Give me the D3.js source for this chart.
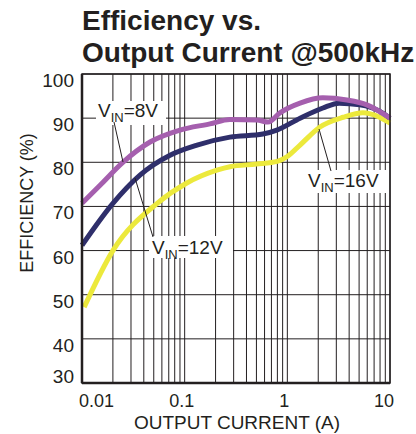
<!DOCTYPE html>
<html>
<head>
<meta charset="utf-8">
<script src="https://cdn.jsdelivr.net/npm/d3@7"></script>
<style>
  body { margin: 0; background: #fff; }
  text { font-family: "Liberation Sans", Arial, sans-serif; fill: #231f20; }
</style>
</head>
<body>
<div class="canva"></div>
<script>
// VIN = 8V
var current8 = [0.01, 0.015, 0.025, 0.046, 0.09, 0.176, 0.276, 0.506, 0.647, 0.847, 1.33, 2.22, 3.8, 5.96, 10];
var eff8     = [70.7, 74.8, 80.0, 84.6, 87.3, 88.7, 89.7, 89.6, 89.1, 91.2, 93.4, 94.6, 94.1, 93.0, 90.0];
// VIN = 12V
var current12 = [0.01, 0.02, 0.0367, 0.072, 0.132, 0.276, 0.578, 0.79, 1.33, 2.22, 3.2, 5.1, 7.9, 10];
var eff12     = [61.2, 70.7, 77.1, 81.6, 83.9, 85.7, 86.4, 87.3, 90.0, 92.3, 93.4, 93.0, 91.6, 90.0];
// VIN = 16V
var current16 = [0.0105, 0.02, 0.054, 0.105, 0.206, 0.276, 0.5, 0.8, 1.0, 1.33, 2.08, 3.5, 5.45, 7.9, 10];
var eff16     = [47.2, 60.0, 70.7, 75.3, 78.2, 79.0, 79.6, 80.2, 81.3, 83.9, 88.0, 90.2, 91.2, 90.2, 88.9];

var xTicks = [0.01, 0.1, 1, 10];
var xTickLabels = ["0.01", "0.1", "1", "10"];
var yTicks = [30, 40, 50, 60, 70, 80, 90, 100];

const svg = d3.select(".canva").append("svg")
              .attr("width", 416)
              .attr("height", 434);

const margin = {top: 74, right: 26, bottom: 51, left: 82};
const graphWidth = 416 - margin.left - margin.right;
const graphHeight = 434 - margin.top - margin.bottom;

const g = svg.append("g")
             .attr("transform", `translate(${margin.left},${margin.top})`);

var x = d3.scaleLog().domain([0.01, 10]).range([0, graphWidth]);
var y = d3.scaleLinear().domain([30, 100]).range([graphHeight, 0]);

// title
svg.append("text").attr("x", 82).attr("y", 30)
   .style("font-weight", "bold").style("font-size", "28px")
   .text("Efficiency vs.");
svg.append("text").attr("x", 82).attr("y", 62)
   .style("font-weight", "bold").style("font-size", "28px")
   .text("Output Current @500kHz");

// log grid
var gridX = [];
[0.01, 0.1, 1].forEach(function(dec) {
  for (var k = 1; k < 10; k++) gridX.push(dec * k);
});
gridX.push(10);

g.selectAll(".vgrid").data(gridX).enter().append("line")
 .attr("x1", d => x(d)).attr("x2", d => x(d))
 .attr("y1", 0).attr("y2", graphHeight)
 .attr("stroke", "#231f20").attr("stroke-width", 1);

g.selectAll(".hgrid").data(yTicks).enter().append("line")
 .attr("x1", 0).attr("x2", graphWidth)
 .attr("y1", d => y(d)).attr("y2", d => y(d))
 .attr("stroke", "#231f20").attr("stroke-width", 1);

// white boxes behind the labels
var boxes = [
  {x: 96, y: 101, w: 70, h: 24},
  {x: 149, y: 236, w: 84, h: 22},
  {x: 305, y: 170, w: 81, h: 23}
];
svg.selectAll(".box").data(boxes).enter().append("rect")
   .attr("x", d => d.x).attr("y", d => d.y)
   .attr("width", d => d.w).attr("height", d => d.h)
   .attr("fill", "#fff");

// leader lines
var leaders = [
  [114, 122, 123, 162],
  [135, 178, 153, 237],
  [319, 129, 331, 171]
];
svg.selectAll(".leader").data(leaders).enter().append("line")
   .attr("x1", d => d[0]).attr("y1", d => d[1])
   .attr("x2", d => d[2]).attr("y2", d => d[3])
   .attr("stroke", "#231f20").attr("stroke-width", 1);

// curves
var series = [
  {c: current16, e: eff16, color: "#ece93c"},
  {c: current12, e: eff12, color: "#2f2f6b"},
  {c: current8,  e: eff8,  color: "#a55fae"}
];
var line = d3.line()
             .x(d => x(d[0]))
             .y(d => y(d[1]))
             .curve(d3.curveMonotoneX);

series.forEach(function(s) {
  var pts = s.c.map((c, i) => [c, s.e[i]]);
  g.append("path")
   .attr("d", line(pts))
   .attr("fill", "none")
   .attr("stroke", s.color)
   .attr("stroke-width", 5);
});

// annotation labels
function vinLabel(px, py, val) {
  var t = svg.append("text").attr("x", px).attr("y", py).style("font-size", "19px");
  t.append("tspan").text("V");
  t.append("tspan").attr("dy", 5).style("font-size", "13px").text("IN");
  t.append("tspan").attr("dy", -5).text("=" + val);
}
vinLabel(98, 117, "8V");
vinLabel(152, 254, "12V");
vinLabel(308, 187, "16V");

// frame
g.append("rect").attr("x", 0).attr("y", 0)
 .attr("width", graphWidth).attr("height", graphHeight)
 .attr("fill", "none").attr("stroke", "#231f20").attr("stroke-width", 1.5);
g.append("line").attr("x1", 0).attr("x2", 0).attr("y1", 0).attr("y2", graphHeight)
 .attr("stroke", "#231f20").attr("stroke-width", 2.5);
g.append("line").attr("x1", 0).attr("x2", graphWidth).attr("y1", graphHeight).attr("y2", graphHeight)
 .attr("stroke", "#231f20").attr("stroke-width", 2.5);

// y tick labels
g.selectAll(".ylab").data(yTicks).enter().append("text")
 .attr("x", -8)
 .attr("y", d => Math.min(y(d) + 13, graphHeight))
 .attr("text-anchor", "end")
 .style("font-size", "19px")
 .text(d => d);

// x tick labels
g.selectAll(".xlab").data(xTicks).enter().append("text")
 .attr("x", d => x(d))
 .attr("y", graphHeight + 24)
 .attr("text-anchor", (d, i) => i === 0 ? "start" : (i === xTicks.length - 1 ? "end" : "middle"))
 .attr("dx", (d, i) => i === xTicks.length - 1 ? 4 : -3)
 .style("font-size", "18px")
 .text((d, i) => xTickLabels[i]);

// axis titles
svg.append("text")
   .attr("x", 237).attr("y", 429)
   .attr("text-anchor", "middle")
   .style("font-size", "19px")
   .text("OUTPUT CURRENT (A)");
svg.append("text")
   .attr("transform", "translate(33,203) rotate(-90)")
   .attr("text-anchor", "middle")
   .style("font-size", "18px")
   .text("EFFICIENCY (%)");
</script>
</body>
</html>
